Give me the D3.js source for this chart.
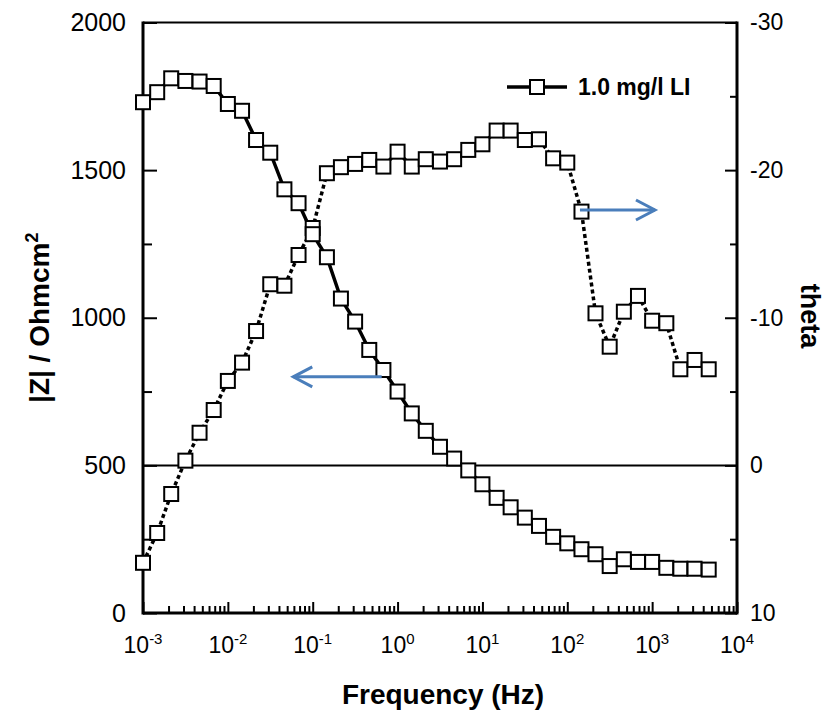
<!DOCTYPE html>
<html>
<head>
<meta charset="utf-8">
<script src="https://cdn.jsdelivr.net/npm/d3@7"></script>
<style>
  body { margin: 0; background: #fff; }
  text { font-family: "Liberation Sans", Arial, sans-serif; fill: #000; }
</style>
</head>
<body>
<div id="chart"></div>
<script>
// measured frequencies (Hz), 6 points per decade
const freq = [0.001, 0.00147, 0.00215, 0.00316, 0.00464, 0.00681,
    0.01, 0.0147, 0.0215, 0.0316, 0.0464, 0.0681,
    0.1, 0.147, 0.215, 0.316, 0.464, 0.681,
    1, 1.47, 2.15, 3.16, 4.64, 6.81,
    10, 14.7, 21.5, 31.6, 46.4, 68.1,
    100, 147, 215, 316, 464, 681,
    1000, 1470, 2150, 3160, 4640];

// |Z| / Ohm cm2
const zMod = [1730, 1764, 1811, 1802, 1800, 1785,
    1724, 1701, 1602, 1559, 1435, 1388,
    1283, 1205, 1065, 987, 891, 823,
    750, 676, 617, 563, 523, 483,
    436, 390, 358, 323, 295, 258,
    236, 216, 199, 159, 182, 173,
    173, 153, 150, 150, 147];

// phase angle theta (deg)
const theta = [6.6, 4.58, 1.94, -0.32, -2.21, -3.75,
    -5.72, -6.96, -9.1, -12.27, -12.17, -14.25,
    -16.08, -19.79, -20.2, -20.42, -20.69, -20.24,
    -21.25, -20.24, -20.74, -20.58, -20.74, -21.37,
    -21.75, -22.68, -22.68, -22.04, -22.09, -20.8,
    -20.51, -17.19, -10.3, -8.04, -10.41, -11.48,
    -9.8, -9.63, -6.51, -7.14, -6.51];

const xDecades = [1e-3, 1e-2, 1e-1, 1e0, 1e1, 1e2, 1e3, 1e4];
const xExponents = ["-3", "-2", "-1", "0", "1", "2", "3", "4"];
const zTicks = [0, 500, 1000, 1500, 2000];
const thetaTicks = [10, 0, -10, -20, -30];
const legendLabel = "1.0 mg/l LI";

const width = 829, height = 711;
const margin = { top: 22.5, right: 92, bottom: 98, left: 143 };

const svg = d3.select("#chart").append("svg")
    .attr("width", width)
    .attr("height", height);

svg.append("rect").attr("width", width).attr("height", height).attr("fill", "#fff");

const x = d3.scaleLog()
    .domain([1e-3, 1e4])
    .range([margin.left, width - margin.right]);

const yZ = d3.scaleLinear()
    .domain([0, 2000])
    .range([height - margin.bottom, margin.top]);

const yT = d3.scaleLinear()
    .domain([10, -30])
    .range([height - margin.bottom, margin.top]);

const x0 = margin.left, x1 = width - margin.right;
const y0 = height - margin.bottom, y1 = margin.top;

// minor ticks
const xMinor = [];
for (let e = -3; e < 4; e++) {
    for (let m = 2; m <= 9; m++) xMinor.push(m * Math.pow(10, e));
}

svg.append("g")
    .attr("transform", `translate(0,${y0})`)
    .call(d3.axisBottom(x).tickValues(xMinor).tickSize(-7).tickFormat(""))
    .call(g => g.select(".domain").remove())
    .selectAll("line").attr("stroke-width", 2);

svg.append("g")
    .attr("transform", `translate(0,${y0})`)
    .call(d3.axisBottom(x).tickValues(xDecades).tickSize(-11).tickFormat(""))
    .call(g => g.select(".domain").remove())
    .selectAll("line").attr("stroke-width", 2);

// x tick labels with superscripts
const xLab = svg.append("g").selectAll("text")
    .data(xDecades)
    .join("text")
    .attr("x", d => x(d))
    .attr("y", 653)
    .attr("text-anchor", "middle")
    .style("font-size", "23px");
xLab.append("tspan").text("10");
xLab.append("tspan")
    .attr("dy", -9)
    .style("font-size", "15px")
    .text((d, i) => xExponents[i]);

// left axis
svg.append("g")
    .attr("transform", `translate(${x0},0)`)
    .call(d3.axisLeft(yZ).tickValues([250, 750, 1250, 1750]).tickSize(-9).tickFormat(""))
    .call(g => g.select(".domain").remove())
    .selectAll("line").attr("stroke-width", 2);

svg.append("g")
    .attr("transform", `translate(${x0},0)`)
    .call(d3.axisLeft(yZ).tickValues(zTicks).tickSize(-14).tickPadding(17)
        .tickFormat(d => String(d)))
    .call(g => g.select(".domain").remove())
    .call(g => g.selectAll("line").attr("stroke-width", 2))
    .call(g => g.selectAll("text")
        .style("font-size", "25px")
        .style("font-family", "Liberation Sans, Arial, sans-serif")
        .attr("fill", "#000"));

// right axis
svg.append("g")
    .attr("transform", `translate(${x1},0)`)
    .call(d3.axisRight(yT).tickValues([5, -5, -15, -25]).tickSize(-7).tickFormat(""))
    .call(g => g.select(".domain").remove())
    .selectAll("line").attr("stroke-width", 2);

svg.append("g")
    .attr("transform", `translate(${x1},0)`)
    .call(d3.axisRight(yT).tickValues(thetaTicks).tickSize(-12).tickPadding(13)
        .tickFormat(d => String(d)))
    .call(g => g.select(".domain").remove())
    .call(g => g.selectAll("line").attr("stroke-width", 2))
    .call(g => g.selectAll("text")
        .style("font-size", "23px")
        .style("font-family", "Liberation Sans, Arial, sans-serif")
        .attr("fill", "#000"));

// frame
svg.append("line").attr("x1", x0).attr("x2", x1).attr("y1", y1).attr("y2", y1)
    .attr("stroke", "#000").attr("stroke-width", 2);
svg.append("line").attr("x1", x0).attr("x2", x1).attr("y1", y0).attr("y2", y0)
    .attr("stroke", "#000").attr("stroke-width", 3);
svg.append("line").attr("x1", x0).attr("x2", x0).attr("y1", y1 - 1).attr("y2", y0 + 1.5)
    .attr("stroke", "#000").attr("stroke-width", 3);
svg.append("line").attr("x1", x1).attr("x2", x1).attr("y1", y1 - 1).attr("y2", y0 + 1.5)
    .attr("stroke", "#000").attr("stroke-width", 3);

// zero line (|Z| = 500, theta = 0)
svg.append("line")
    .attr("x1", x0).attr("x2", x1)
    .attr("y1", yT(0)).attr("y2", yT(0))
    .attr("stroke", "#000").attr("stroke-width", 2);

// axis titles
svg.append("text")
    .attr("x", (x0 + x1) / 2 + 3)
    .attr("y", 704)
    .attr("text-anchor", "middle")
    .style("font-size", "28px")
    .style("font-weight", "bold")
    .text("Frequency (Hz)");

const yTitle = svg.append("text")
    .attr("transform", `translate(49,${(y0 + y1) / 2}) rotate(-90)`)
    .attr("text-anchor", "middle")
    .style("font-size", "28px")
    .style("font-weight", "bold");
yTitle.append("tspan").text("|Z| / Ohmcm");
yTitle.append("tspan").attr("dy", -11).style("font-size", "18px").text("2");

svg.append("text")
    .attr("transform", `translate(801,316) rotate(90)`)
    .attr("text-anchor", "middle")
    .style("font-size", "27px")
    .style("font-weight", "bold")
    .text("theta");

// series
const pts = freq.map((f, i) => ({ f, z: zMod[i], t: theta[i] }));

svg.append("path")
    .datum(pts)
    .attr("fill", "none")
    .attr("stroke", "#000")
    .attr("stroke-width", 3.5)
    .attr("stroke-dasharray", "4,3")
    .attr("d", d3.line().x(d => x(d.f)).y(d => yT(d.t)));

svg.append("path")
    .datum(pts)
    .attr("fill", "none")
    .attr("stroke", "#000")
    .attr("stroke-width", 3.5)
    .attr("d", d3.line().x(d => x(d.f)).y(d => yZ(d.z)));

const sq = 14;
svg.append("g").selectAll("rect")
    .data(pts)
    .join("rect")
    .attr("x", d => x(d.f) - sq / 2)
    .attr("y", d => yT(d.t) - sq / 2)
    .attr("width", sq).attr("height", sq)
    .attr("fill", "#fff").attr("stroke", "#000").attr("stroke-width", 2);

svg.append("g").selectAll("rect")
    .data(pts)
    .join("rect")
    .attr("x", d => x(d.f) - sq / 2)
    .attr("y", d => yZ(d.z) - sq / 2)
    .attr("width", sq).attr("height", sq)
    .attr("fill", "#fff").attr("stroke", "#000").attr("stroke-width", 2);

// arrows pointing to the axis each curve belongs to
const arrowColor = "#4a7ebb";
function arrow(xa, xb, y, dir) {
    svg.append("line")
        .attr("x1", xa).attr("x2", xb).attr("y1", y).attr("y2", y)
        .attr("stroke", arrowColor).attr("stroke-width", 3);
    svg.append("path")
        .attr("d", `M${xb - dir * 19},${y - 10}L${xb},${y}L${xb - dir * 19},${y + 10}`)
        .attr("fill", "none").attr("stroke", arrowColor).attr("stroke-width", 3);
}
arrow(x(0.65), x(0.059), yZ(800), -1);
arrow(x(141), x(1080), yT(-17.3), 1);

// legend
const lg = svg.append("g");
lg.append("line").attr("x1", 507).attr("x2", 567).attr("y1", 87).attr("y2", 87)
    .attr("stroke", "#000").attr("stroke-width", 3.5);
lg.append("rect").attr("x", 537 - sq / 2).attr("y", 87 - sq / 2)
    .attr("width", sq).attr("height", sq)
    .attr("fill", "#fff").attr("stroke", "#000").attr("stroke-width", 2);
lg.append("text")
    .attr("x", 578).attr("y", 95)
    .style("font-size", "23px")
    .style("font-weight", "bold")
    .text(legendLabel);
</script>
</body>
</html>
